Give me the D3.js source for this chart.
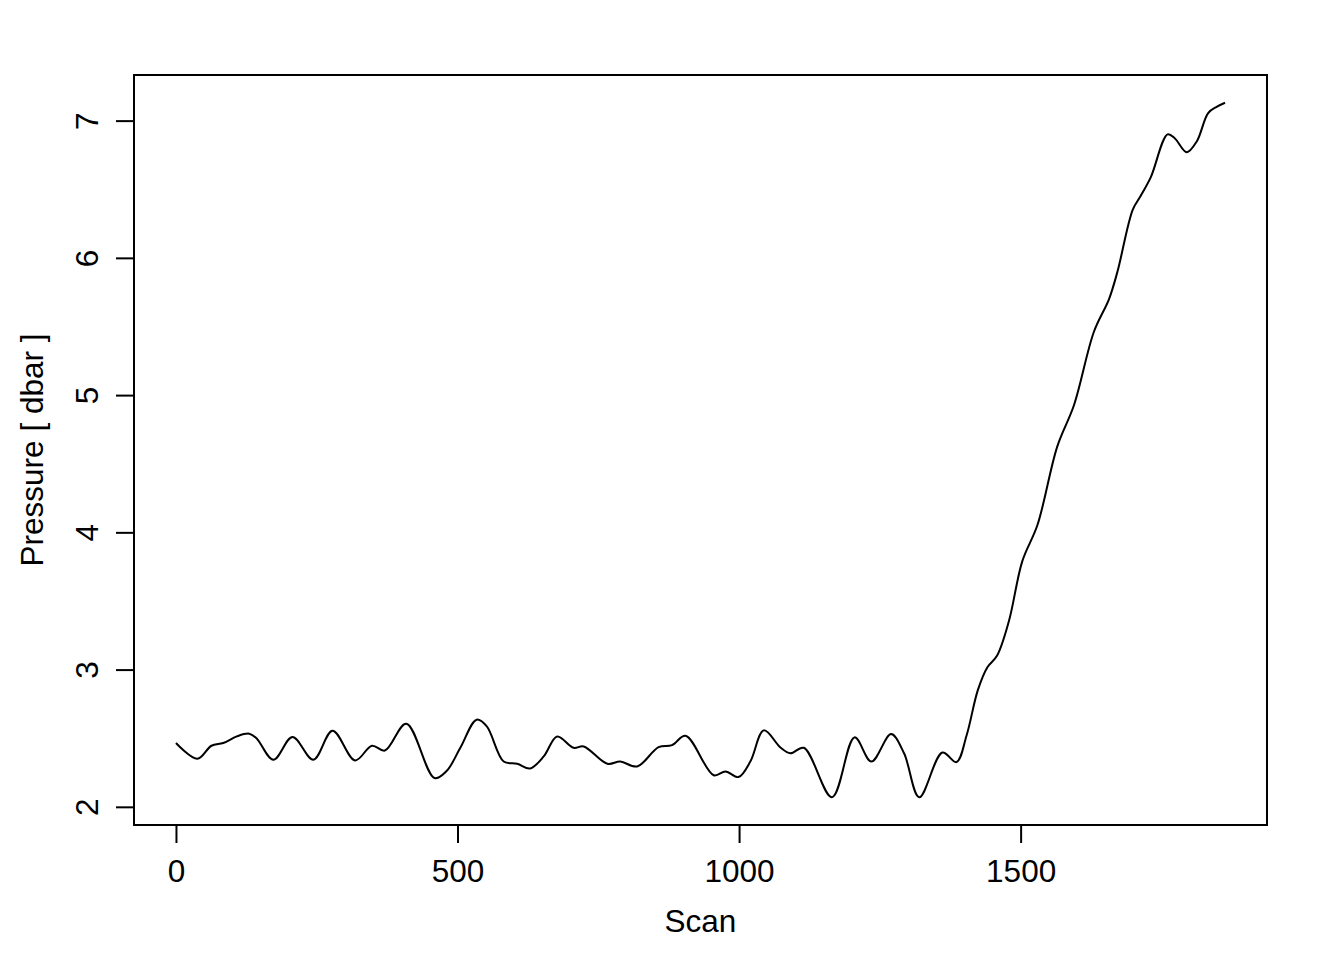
<!DOCTYPE html>
<html>

<head>
    <title>Pressure</title>
    <script src="https://cdn.jsdelivr.net/npm/d3@7"></script>
    <style>
        body { margin: 0; background: #fff; }
        text { font-family: "Liberation Sans", Arial, sans-serif; }
    </style>
</head>

<body>
    <svg width="1344" height="960" id="mainsvg"></svg>
    <script>
        // values
        const scans = [0, 38, 63, 84, 108, 130, 143, 173, 207, 244, 278, 318, 348, 371, 409, 459, 481,
            505, 534, 552, 582, 606, 629, 653, 677, 706, 724, 766, 789, 819, 857, 881, 905, 955, 976,
            999, 1020, 1044, 1074, 1091, 1115, 1165, 1205, 1235, 1270, 1293, 1320, 1361, 1386, 1404,
            1424, 1441, 1458, 1479, 1503, 1530, 1565, 1595, 1630, 1657, 1672, 1699, 1713, 1731, 1761,
            1774, 1795, 1813, 1833, 1848, 1863];
        const pressure = [2.465, 2.35, 2.445, 2.465, 2.513, 2.533, 2.50, 2.343, 2.509, 2.343, 2.555,
            2.338, 2.445, 2.41, 2.606, 2.21, 2.263, 2.43, 2.635, 2.586, 2.33, 2.314, 2.28, 2.367, 2.513,
            2.43, 2.44, 2.314, 2.33, 2.294, 2.435, 2.45, 2.518, 2.23, 2.258, 2.217, 2.33, 2.557, 2.43,
            2.39, 2.43, 2.07, 2.506, 2.33, 2.53, 2.39, 2.07, 2.396, 2.326, 2.52, 2.85, 3.017, 3.10,
            3.35, 3.79, 4.055, 4.625, 4.93, 5.46, 5.70, 5.90, 6.35, 6.45, 6.586, 6.90, 6.87, 6.77,
            6.85, 7.055, 7.10, 7.13];
        const xTicks = [0, 500, 1000, 1500];
        const yTicks = [2, 3, 4, 5, 6, 7];

        const svg = d3.select('svg');
        const margin = { top: 75, right: 77, bottom: 135, left: 134 };
        const width = +svg.attr('width') - margin.left - margin.right;
        const height = +svg.attr('height') - margin.top - margin.bottom;
        const g = svg.append('g').attr('transform', `translate(${margin.left},${margin.top})`);
        const fs = 31.5;

        // R style 4% padding on both axes
        const pad = ([a, b]) => [a - (b - a) * 0.04, b + (b - a) * 0.04];
        const x = d3.scaleLinear().domain(pad(d3.extent(scans))).range([0, width]);
        const y = d3.scaleLinear().domain(pad(d3.extent(pressure))).range([height, 0]);

        const data = scans.map((s, i) => ({ s, p: pressure[i] }));

        const xAxis = g.append('g').attr('transform', `translate(0,${height})`)
            .call(d3.axisBottom(x).tickValues(xTicks).tickFormat(d3.format('d')).tickSize(18).tickPadding(17));
        const yAxis = g.append('g')
            .call(d3.axisLeft(y).tickValues(yTicks).tickFormat(d3.format('d')).tickSize(18));
        [xAxis, yAxis].forEach(a => {
            a.select('.domain').remove();
            a.selectAll('line').attr('stroke', '#000').attr('stroke-width', 2);
            a.selectAll('text').attr('font-size', fs).attr('fill', '#000')
                .attr('font-family', '"Liberation Sans", Arial, sans-serif');
        });
        yAxis.selectAll('text')
            .attr('x', 0).attr('y', -36).attr('dy', 0)
            .attr('text-anchor', 'middle')
            .attr('transform', 'rotate(-90)');

        g.append('path').datum(data)
            .attr('fill', 'none').attr('stroke', '#000').attr('stroke-width', 2)
            .attr('stroke-linejoin', 'round')
            .attr('d', d3.line().x(d => x(d.s)).y(d => y(d.p)).curve(d3.curveCatmullRom.alpha(0.5)));

        g.append('rect').attr('width', width).attr('height', height)
            .attr('fill', 'none').attr('stroke', '#000').attr('stroke-width', 2);

        svg.append('text').attr('x', margin.left + width / 2).attr('y', 932)
            .attr('text-anchor', 'middle').attr('font-size', fs).text('Scan');
        svg.append('text').attr('transform', `translate(43,${margin.top + height / 2}) rotate(-90)`)
            .attr('text-anchor', 'middle').attr('font-size', fs).text('Pressure [ dbar ]');
    </script>
</body>

</html>
